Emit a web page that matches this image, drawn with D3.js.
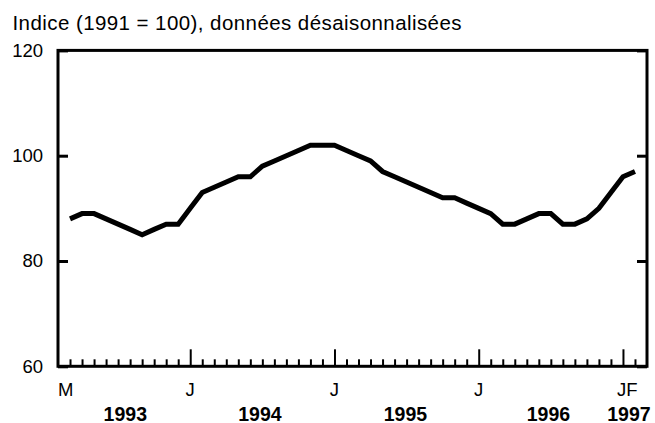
<!DOCTYPE html>
<html>
<head>
<meta charset="utf-8">
<script src="https://cdn.jsdelivr.net/npm/d3@7/dist/d3.min.js"></script>
<style>
  body { margin: 0; background: #fff; }
  svg { display: block; font-family: "Liberation Sans", Arial, sans-serif; }
  .axis path { display: none; }
  .axis text { font-size: 18.5px; fill: #000; }
</style>
</head>
<body>
<div id="vis-container"></div>
<script>
//width and height
var w = 655;
var h = 423;

// months counted from Feb 1993 (0) - first point is Mar 1993 (1)
var startMonth = 1;
var values = [88, 89, 89, 88, 87, 86, 85, 86, 87, 87,          // 1993 Mar-Dec
              90, 93, 94, 95, 96, 96, 98, 99, 100, 101, 102, 102, // 1994
              102, 101, 100, 99, 97, 96, 95, 94, 93, 92, 92, 91,  // 1995
              90, 89, 87, 87, 88, 89, 89, 87, 87, 88, 90, 93,     // 1996
              96, 97];                                            // 1997 Jan-Feb
var yTicks = [60, 80, 100, 120];
var monthLabels = [[0.65, "M"], [11, "J"], [23, "J"], [35, "J"], [47.35, "JF"]];
var yearLabels = [[5.6, "1993"], [16.8, "1994"], [28.9, "1995"], [40.8, "1996"], [47.5, "1997"]];
var title = "Indice (1991 = 100), données désaisonnalisées";

var dataset = values.map(function (v, i) { return [startMonth + i, v]; });

var xScale = d3.scaleLinear().domain([0, 49]).range([58, 647]);
var yScale = d3.scaleLinear().domain([60, 120]).range([366.3, 50.4]);

var svg = d3.select("#vis-container")
    .append("svg")
    .attr("width", w)
    .attr("height", h);

// title
svg.append("text")
    .attr("x", 12.5)
    .attr("y", 30)
    .attr("textLength", 449)
    .attr("lengthAdjust", "spacing")
    .style("font-size", "20.5px")
    .text(title);

// month ticks along the bottom (inside the frame)
var monthTicks = d3.range(1, 49);
var xAxis = d3.axisBottom(xScale)
    .tickValues(monthTicks)
    .tickSize(-7)
    .tickFormat("");
var gx = svg.append("g")
    .attr("class", "x axis")
    .attr("transform", "translate(0," + yScale(60) + ")")
    .call(xAxis);
gx.selectAll(".tick line")
    .attr("stroke", "#000")
    .attr("stroke-width", 2)
    .attr("y2", function (d) { return (d - 11) % 12 === 0 ? -17 : -7; });

// y ticks left with labels
var gyl = svg.append("g")
    .attr("class", "y axis")
    .attr("transform", "translate(" + xScale(0) + ",0)")
    .call(d3.axisLeft(yScale).tickValues(yTicks).tickSize(-10).tickPadding(15));
gyl.selectAll(".tick line").attr("stroke", "#000").attr("stroke-width", 3);

// y ticks right, no labels
var gyr = svg.append("g")
    .attr("class", "y axis")
    .attr("transform", "translate(" + xScale(49) + ",0)")
    .call(d3.axisRight(yScale).tickValues(yTicks).tickSize(-10).tickFormat(""));
gyr.selectAll(".tick line").attr("stroke", "#000").attr("stroke-width", 3);

// frame
svg.append("rect")
    .attr("x", xScale(0))
    .attr("y", yScale(120))
    .attr("width", xScale(49) - xScale(0))
    .attr("height", yScale(60) - yScale(120))
    .attr("fill", "none")
    .attr("stroke", "#000")
    .attr("stroke-width", 3);

// month letters
svg.selectAll(".mlabel")
    .data(monthLabels)
    .enter()
    .append("text")
    .attr("class", "mlabel")
    .attr("x", function (d) { return xScale(d[0]); })
    .attr("y", 396)
    .style("font-size", "18.5px")
    .style("text-anchor", "middle")
    .text(function (d) { return d[1]; });

// years
svg.selectAll(".ylabel")
    .data(yearLabels)
    .enter()
    .append("text")
    .attr("class", "ylabel")
    .attr("x", function (d) { return xScale(d[0]); })
    .attr("y", 420.5)
    .style("font-size", "19.5px")
    .style("font-weight", "bold")
    .style("text-anchor", "middle")
    .text(function (d) { return d[1]; });

// the line
var line = d3.line()
    .x(function (d) { return xScale(d[0]); })
    .y(function (d) { return yScale(d[1]); });

svg.append("path")
    .datum(dataset)
    .attr("fill", "none")
    .attr("stroke", "#000")
    .attr("stroke-width", 5)
    .attr("stroke-linejoin", "miter")
    .attr("d", line);
</script>
</body>
</html>
